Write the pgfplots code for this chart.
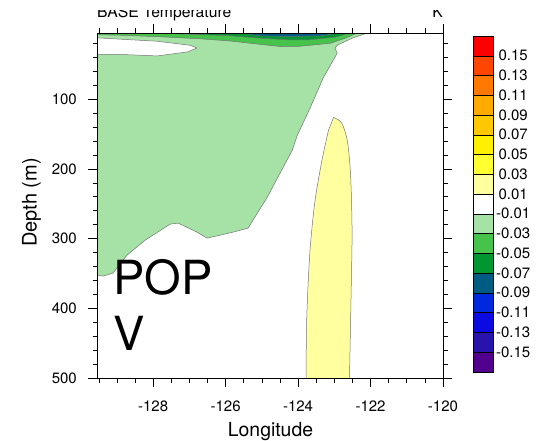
\documentclass[border=0pt]{standalone}
\usepackage{pgfplots}
\pgfplotsset{compat=1.18}
\usepackage{fontspec}
\setmainfont{TeX Gyre Heros}
\definecolor{cb0}{RGB}{80,0,140}
\definecolor{cb1}{RGB}{40,20,170}
\definecolor{cb2}{RGB}{10,10,225}
\definecolor{cb3}{RGB}{0,40,220}
\definecolor{cb4}{RGB}{0,92,130}
\definecolor{cb5}{RGB}{0,150,50}
\definecolor{cb6}{RGB}{70,195,75}
\definecolor{cb7}{RGB}{166,226,166}
\definecolor{cb8}{RGB}{255,255,255}
\definecolor{cb9}{RGB}{255,255,160}
\definecolor{cb10}{RGB}{255,255,50}
\definecolor{cb11}{RGB}{255,240,0}
\definecolor{cb12}{RGB}{255,200,0}
\definecolor{cb13}{RGB}{255,170,0}
\definecolor{cb14}{RGB}{255,120,0}
\definecolor{cb15}{RGB}{255,70,0}
\definecolor{cb16}{RGB}{255,0,0}
\colorlet{cline}{black!55}
\newcommand{\tfont}{\fontsize{15}{18}\selectfont}
\begin{document}
\begin{tikzpicture}[x=1pt,y=1pt]
\path[use as bounding box] (0,0) rectangle (539,440);
\begin{axis}[
  at={(97pt,62pt)}, anchor=south west,
  scale only axis, width=346pt, height=345pt,
  xmin=-129.55, xmax=-120, ymin=5, ymax=500,
  y dir=reverse,
  axis on top=true,
  xtick={-128,-126,-124,-122,-120},
  minor xtick={-129.5,-129,...,-120},
  ytick={100,200,300,400,500},
  minor ytick={20,40,...,480},
  xtick pos=both, ytick pos=both,
  xticklabel pos=left, yticklabel pos=left,
  tick align=outside,
  major tick length=9pt, minor tick length=4.5pt,
  every tick/.style={black, line width=0.6pt},
  axis line style={line width=0.8pt},
  /pgf/number format/assume math mode=true,
  ticklabel style={font=\tfont, inner sep=0pt},
  yticklabel style={anchor=east, xshift=-11pt},
  xticklabel style={anchor=north, yshift=-14pt},
  xticklabel={\pgfmathprintnumber[int detect]{\tick}},
]
% light green region (-0.03 .. -0.01)
\addplot[fill=cb7, draw=cline, line width=0.5pt] coordinates {
(-129.55,5) (-122.09,5) (-122.51,12.5) (-122.92,22.6) (-122.98,26.9) (-122.92,34)
(-123.31,69.9) (-123.67,112.9) (-124.02,151.6) (-124.16,173.1) (-124.41,197.5)
(-124.85,240.5) (-125.38,284.9) (-125.79,290.7) (-126.51,299.3) (-126.79,290.7)
(-127.31,277.8) (-127.53,279.2) (-128.22,302.2) (-128.72,323.7) (-129.11,349.5)
(-129.38,353.8) (-129.55,352.3)} --cycle;
% white hole
\addplot[fill=white, draw=cline, line width=0.5pt] coordinates {
(-129.55,12) (-127.89,16.8) (-126.98,22.6) (-126.79,26.5) (-127.06,32.2)
(-127.89,37.9) (-128.83,35.9) (-129.55,35.5)} --cycle;
% medium green (-0.05 .. -0.03)
\addplot[fill=cb6, draw=cline, line width=0.5pt] coordinates {
(-129.55,5) (-122.37,5) (-122.70,12.5) (-123.11,19.7) (-123.94,24.0) (-124.49,24.4)
(-125.32,19.7) (-125.88,16.4) (-126.70,13.3) (-127.81,10.4) (-128.91,8.2) (-129.55,7.5)} --cycle;
% dark green (-0.07 .. -0.05)
\addplot[fill=cb5, draw=cline, line width=0.5pt] coordinates {
(-127.95,5) (-122.56,5) (-122.98,11.1) (-123.67,14.7) (-124.22,15.0) (-125.05,12.5)
(-125.88,9.0) (-126.98,6.8)} --cycle;
% teal (-0.09 .. -0.07)
\addplot[fill=cb4, draw=cline, line width=0.5pt] coordinates {
(-125.60,5) (-122.84,5) (-123.39,9.0) (-124.22,10.1) (-125.05,9.0)} --cycle;
% light yellow (0.01 .. 0.03)
\addplot[fill=cb9, draw=cline, line width=0.5pt, smooth, tension=0.5] coordinates {
(-123.02,126.2) (-122.80,134) (-122.64,160) (-122.55,210) (-122.51,292.1)
(-122.54,388.2) (-122.58,500) (-122.58,530) (-123.78,530) (-123.78,500) (-123.76,412.1) (-123.67,316.5)
(-123.53,244.8) (-123.34,187.5) (-123.16,144.4)} --cycle;
\end{axis}
% colour bar
\begin{axis}[
  at={(473pt,68.2pt)}, anchor=south west,
  scale only axis, width=20pt, height=335.8pt,
  xmin=0, xmax=1, ymin=0, ymax=17,
  xtick=\empty,
  ytick={1,...,16},
  yticklabels={-0.15,-0.13,-0.11,-0.09,-0.07,-0.05,-0.03,-0.01,0.01,0.03,0.05,0.07,0.09,0.11,0.13,0.15},
  yticklabel pos=right,
  ytick style={draw=none},
  axis line style={line width=0.6pt},
  yticklabel style={font=\tfont, anchor=west, inner sep=0pt, text width=36pt, align=center, xshift=2pt},
]
\addplot[fill=cb0, draw=black, line width=0.5pt] coordinates {(0,0) (1,0) (1,1) (0,1)} --cycle;
\addplot[fill=cb1, draw=black, line width=0.5pt] coordinates {(0,1) (1,1) (1,2) (0,2)} --cycle;
\addplot[fill=cb2, draw=black, line width=0.5pt] coordinates {(0,2) (1,2) (1,3) (0,3)} --cycle;
\addplot[fill=cb3, draw=black, line width=0.5pt] coordinates {(0,3) (1,3) (1,4) (0,4)} --cycle;
\addplot[fill=cb4, draw=black, line width=0.5pt] coordinates {(0,4) (1,4) (1,5) (0,5)} --cycle;
\addplot[fill=cb5, draw=black, line width=0.5pt] coordinates {(0,5) (1,5) (1,6) (0,6)} --cycle;
\addplot[fill=cb6, draw=black, line width=0.5pt] coordinates {(0,6) (1,6) (1,7) (0,7)} --cycle;
\addplot[fill=cb7, draw=black, line width=0.5pt] coordinates {(0,7) (1,7) (1,8) (0,8)} --cycle;
\addplot[fill=cb8, draw=black, line width=0.5pt] coordinates {(0,8) (1,8) (1,9) (0,9)} --cycle;
\addplot[fill=cb9, draw=black, line width=0.5pt] coordinates {(0,9) (1,9) (1,10) (0,10)} --cycle;
\addplot[fill=cb10, draw=black, line width=0.5pt] coordinates {(0,10) (1,10) (1,11) (0,11)} --cycle;
\addplot[fill=cb11, draw=black, line width=0.5pt] coordinates {(0,11) (1,11) (1,12) (0,12)} --cycle;
\addplot[fill=cb12, draw=black, line width=0.5pt] coordinates {(0,12) (1,12) (1,13) (0,13)} --cycle;
\addplot[fill=cb13, draw=black, line width=0.5pt] coordinates {(0,13) (1,13) (1,14) (0,14)} --cycle;
\addplot[fill=cb14, draw=black, line width=0.5pt] coordinates {(0,14) (1,14) (1,15) (0,15)} --cycle;
\addplot[fill=cb15, draw=black, line width=0.5pt] coordinates {(0,15) (1,15) (1,16) (0,16)} --cycle;
\addplot[fill=cb16, draw=black, line width=0.5pt] coordinates {(0,16) (1,16) (1,17) (0,17)} --cycle;
\end{axis}
% labels and texts
\node[rotate=90, anchor=base, font=\fontsize{20}{24}\selectfont] at (36.5,237.5) {Depth (m)};
\node[anchor=base, font=\fontsize{19.4}{23}\selectfont] at (270.5,3.5) {Longitude};
\node[anchor=base west, inner sep=0pt, font=\fontsize{47}{56}\selectfont] at (113,146) {POP};
\node[anchor=base west, inner sep=0pt, font=\fontsize{47}{56}\selectfont] at (113,90) {V};
\node[anchor=base west, inner sep=0pt, font=\fontsize{15.7}{18}\selectfont] at (97,422.7) {BASE Temperature};
\node[anchor=base east, inner sep=0pt, font=\fontsize{15.7}{18}\selectfont] at (443,422.7) {K};
\fill[white] (0,430) rectangle (539,441);
\end{tikzpicture}
\end{document}
